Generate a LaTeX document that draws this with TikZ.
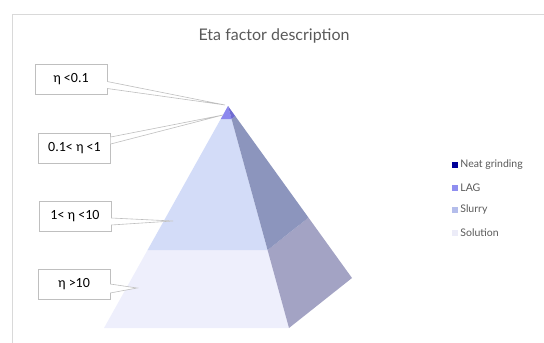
\documentclass[tikz,border=0pt]{standalone}
\usepackage{fontspec}
\setmainfont{Carlito}
\newfontfamily\chartfont{Lato}
\usetikzlibrary{positioning,calc}
\definecolor{framegray}{RGB}{217,217,217}
\definecolor{boxgray}{RGB}{191,191,191}
\definecolor{titlegray}{RGB}{89,89,89}
\definecolor{neatblue}{RGB}{0,0,153}
\definecolor{lagfront}{RGB}{139,135,238}
\definecolor{lagside}{RGB}{112,108,210}
\definecolor{slurryfront}{RGB}{211,220,248}
\definecolor{slurryside}{RGB}{140,149,189}
\definecolor{solfront}{RGB}{238,239,252}
\definecolor{solside}{RGB}{163,163,196}
\definecolor{lagkey}{RGB}{143,142,240}
\definecolor{slurrykey}{RGB}{180,189,235}
\definecolor{solkey}{RGB}{236,236,248}

\begin{document}
\begin{tikzpicture}[x=1pt,y=-1pt,
  labelbox/.style={draw=boxgray,fill=white,minimum width=72pt,minimum height=30pt,font=\fontsize{14}{16}\selectfont},
  callout/.style={draw=boxgray,fill=white,line width=0.6pt},
  keybox/.style={minimum size=6pt,inner sep=0pt},
  keytext/.style={anchor=west,inner sep=0pt,font=\chartfont\fontsize{10.5}{12}\selectfont,text=titlegray}
]
\useasboundingbox (0,0) rectangle (544,343);

% chart frame
\draw[framegray,line width=0.8pt] (12.5,343) -- (12.5,14.5) -- (544,14.5);
\node[font=\chartfont\fontsize{16}{18}\selectfont,text=titlegray] (title) at (274,36) {Eta factor description};

% pyramid corners
\coordinate (apex) at (228,106);
\coordinate (bl) at (104,328);
\coordinate (br) at (289,328);
\coordinate (rr) at (352,278);
% level cuts (front and side)
\coordinate (l1) at ($(apex)!0.0586!(bl)$);
\coordinate (r1) at ($(apex)!0.0586!(br)$);
\coordinate (s1) at ($(apex)!0.0586!(rr)$);
\coordinate (l2) at ($(apex)!0.649!(bl)$);
\coordinate (r2) at ($(apex)!0.649!(br)$);
\coordinate (s2) at ($(apex)!0.649!(rr)$);

% front face
\fill[solfront] (l2) -- (r2) -- (br) -- (bl) -- cycle;
\fill[slurryfront] (l1) -- (r1) -- (r2) -- (l2) -- cycle;
\fill[lagfront] (apex) -- (r1) -- (l1) -- cycle;
% side face
\fill[solside] (r2) -- (s2) -- (rr) -- (br) -- cycle;
\fill[slurryside] (r1) -- (s1) -- (s2) -- (r2) -- cycle;
\fill[lagside] (apex) -- (s1) -- (r1) -- cycle;

% the labels
\node[labelbox] (eta1) at (71,79) {η <0.1};
\node[labelbox] (eta2) at (74.5,148) {0.1< η <1};
\node[labelbox] (eta3) at (75,216) {1< η <10};
\node[labelbox] (eta4) at (74,284) {η >10};

% pointers
\coordinate (p1) at (225,105);
\coordinate (p2) at (223,115);
\coordinate (p3) at (173,221);
\coordinate (p4) at (137,288);
\draw[callout] ($(eta1.east)+(0,2.5)$) -- (p1) -- ($(eta1.east)+(0,9.5)$);
\draw[callout] ($(eta2.east)+(0,-11)$) -- (p2) -- ($(eta2.east)+(0,-4)$);
\draw[callout] ($(eta3.east)+(0,2)$) -- (p3) -- ($(eta3.east)+(0,9)$);
\draw[callout] ($(eta4.east)+(0,0)$) -- (p4) -- ($(eta4.east)+(0,9)$);

% the legend
\node[keybox,fill=neatblue] (k1) at (455,165) {};
\node[keybox,fill=lagkey] (k2) at (455,188) {};
\node[keybox,fill=slurrykey] (k3) at (455,210) {};
\node[keybox,fill=solkey] (k4) at (455,233) {};
\node[keytext,right=2pt of k1] (t1) {Neat grinding};
\node[keytext,right=2pt of k2] (t2) {LAG};
\node[keytext,right=2pt of k3] (t3) {Slurry};
\node[keytext,right=2pt of k4] (t4) {Solution};
\end{tikzpicture}
\end{document}
